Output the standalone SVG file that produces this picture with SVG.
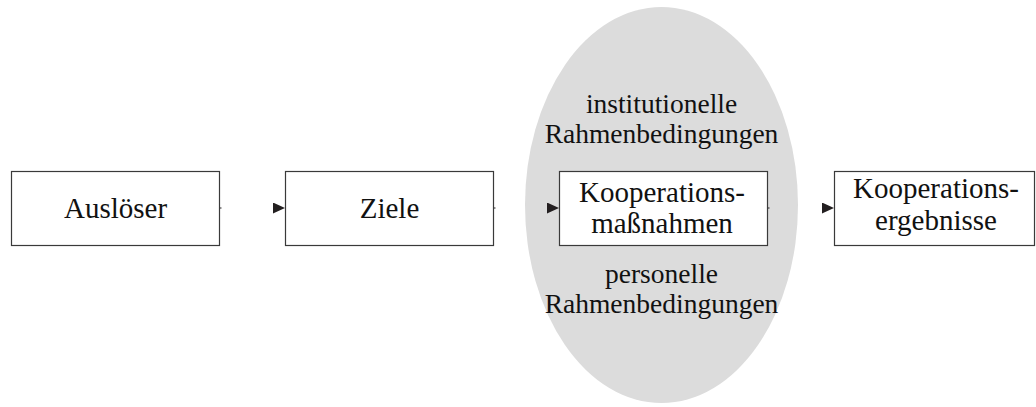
<svg xmlns="http://www.w3.org/2000/svg" width="1036" height="407" viewBox="0 0 1036 407">
<style>
.box{fill:#fff;stroke:#3a3a3a;stroke-width:1.2}
.t{font-family:"Liberation Serif","Times New Roman",serif;font-size:29px;fill:#111;text-anchor:middle}
.e{font-family:"Liberation Serif","Times New Roman",serif;font-size:27.5px;fill:#111;text-anchor:middle}
.c{fill:none;stroke:#231f20;stroke-width:1;stroke-dasharray:2 1000}
</style>
<defs>
<marker id="arr" viewBox="0 0 12 11" refX="12" refY="5.5" markerWidth="12" markerHeight="11" markerUnits="userSpaceOnUse" orient="auto">
<path d="M0,0 L12,5.5 L0,11 Z" fill="#231f20"/>
</marker>
</defs>
<rect width="1036" height="407" fill="#fff"/>
<g id="rahmen">
<ellipse cx="661.5" cy="205" rx="136.5" ry="198" fill="#dcdcdc"/>
<text class="e" x="661.5" y="113">institutionelle</text>
<text class="e" x="661.5" y="143">Rahmenbedingungen</text>
<text class="e" x="661.5" y="283">personelle</text>
<text class="e" x="661.5" y="313">Rahmenbedingungen</text>
</g>
<g id="connectors">
<path class="c" d="M219.5,208 H285" marker-end="url(#arr)"/>
<path class="c" d="M493.5,208 H559" marker-end="url(#arr)"/>
<path class="c" d="M767.5,208 H834" marker-end="url(#arr)"/>
</g>
<g id="ausloeser">
<rect class="box" x="11.5" y="171.5" width="208" height="74"/>
<text class="t" x="115.5" y="218">Auslöser</text>
</g>
<g id="ziele">
<rect class="box" x="285.5" y="171.5" width="208" height="74"/>
<text class="t" x="389.5" y="218">Ziele</text>
</g>
<g id="massnahmen">
<rect class="box" x="559.5" y="171.5" width="208" height="74"/>
<text class="t" x="662" y="202">Kooperations-</text>
<text class="t" x="662" y="233">maßnahmen</text>
</g>
<g id="ergebnisse">
<rect class="box" x="834.5" y="171.5" width="200" height="74"/>
<text class="t" x="936" y="198">Kooperations-</text>
<text class="t" x="936" y="230">ergebnisse</text>
</g>
</svg>
